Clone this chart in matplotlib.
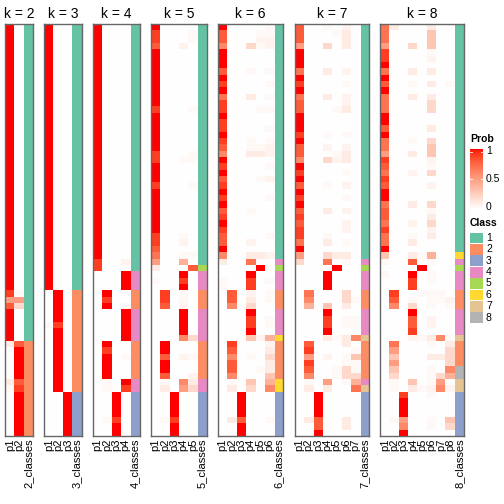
import numpy as np
import matplotlib
matplotlib.use("Agg")
import matplotlib.pyplot as plt
from matplotlib.patches import Rectangle

plt.rcParams['font.family'] = ['Liberation Sans', 'DejaVu Sans']

ks = [2, 3, 4, 5, 6, 7, 8]
class_colors = ['#66C2A5', '#FC8D62', '#8DA0CB', '#E78AC3',
                '#A6D854', '#FFD92F', '#E5C494', '#B3B3B3']
class_labels = ['1', '2', '3', '4', '5', '6', '7', '8']
prob_ticks = [0, 0.5, 1]

# membership codes, one char per column p1..pk:
# '.'=0, f=0.03, g=0.06, 1..9 = 0.1..0.9, X=1
codes = {'.': 0.0, 'f': 0.03, 'g': 0.06, 'X': 1.0,
         '1': 0.1, '2': 0.2, '3': 0.3, '4': 0.4, '5': 0.5,
         '6': 0.6, '7': 0.7, '8': 0.8, '9': 0.9}

mem_k2 = """
X. X. X. X. X. X. X. X. X. X.
X. X. X. X. X. X. X. X. X. X.
X. X. X. X. X. X. X. X. X. X.
X. X. X. X. X. X. X. X. X. X.
X. X. 9f 55 82 X. X. X. X. X.
18 .X .X .X .X .X 18 f9 .X .X
.X .X .X .X .X
"""
mem_k3 = """
X.. X.. X.. X.. X.. X.. X.. X.. X.. X..
X.. X.. X.. X.. X.. X.. X.. X.. X.. X..
X.. X.. X.. X.. X.. X.. X.. X.. X.. X..
X.. X.. X.. X.. X.. X.. X.. X.. X.. X..
X.. X.. .X. .X. .X. .X. .X. f9. .X. .X.
.X. .X. .X. .X. .X. .X. .X. .X. ..X ..X
..X ..X ..X ..X ..X
"""
mem_k4 = """
X... X... X... X... X... X... X... X... X... X...
X... X... X... X... X... X... X... X... X... X...
X... X... X... X... X... X... X... X... X... X...
X... X... X... X... X... X... X... 9..g 9... ...X
...X ...X .X.. .9.. .X.f ...X ...X ...X ...X ...X
.X.. .9.. .X.f .X.. .X.. .X.. .f.X .f.9 ..X. ..X.
..X. ..X. .f9. ..X. ..X.
"""
mem_k5 = """
X.... 9...f 9...f 8..g. X.... X.... X.... X.... X.... X....
X.... X.... X.... 9...f X.... X.... X.... X.... X.... X....
9...f 9..ff X.... X.... X.... 9...f X.... X.... X.... X....
X.... X.... X.... 9..f. 9..g. 8.... 7..ff 5..4. 1...8 ...X.
f..9. ...X. .9.f. .9.f. .8.g. ...X. ...X. ...X. ...X. ...62
.X... .X... .8.gf .X... .X... .8..g .f.61 .1.52 ..X.. ..X..
..X.. ..X.. .f9.. ..X.. ..X..
"""
mem_k6 = """
X....f 8...ff 8...gg 6..2fg X..... X..... X..... 8..f.f X..... 9....f
X..... 7..1.f 9..... 9...ff X..... 9..... 9....f X..... 9..f.f 8..ffg
6..11g X..... 9....f X..... 8...fg 9..... X..... 9....f X..... 8..f..
9..... X..... 9..... 8....f 8..g.. X..... 6..11g 1..7.. ....X. ...X..
f..9.f f..9.. .8.g.f .8.1.f .6.2.. ...X.. ...9.f ...9.f ...X.. ...3g4
.9...g .8...1 .6.f.2 .8...1 .8..f1 .6...3 .f.3.4 .1.2.6 ..X... ..X...
..X... ..X... .18..f ..X... ..X...
"""
mem_k7 = """
8..f.g. 8...f1. 8....1. 5..2.1. X...... X...... X...... 7..1.g. X...... 9....f.
X...... 7..1.g. 8....g. 8...f1. X...... X...... X...... 9..f.f. X...... 8..g.g.
8...f1. 6..2g1. X...... 9....f. X...... 8..f.g. X...... 9....f. X...... 8..1.g.
9...... 8....g. 9....g. 9..f... 7..1.f. X...... 5..211. 2..7.f. ....X.. ...X...
...X... ...X... .7...2. .6...2f .4.3.1. ...X... ...9.ff ...9.ff ...X... ...1f16
.8...1. .9....f .5.g.f3 .9...ff .8..f2f .6..f22 .f.5.f4 .1.1..7 ..X.... ..X....
..X.... ..X.... .18..1. ..8..1. ..X....
"""
mem_k8 = """
71...1.. 7....3.. 7....3.. 5..2.3.. 9....f.. 9....g.. X....... 7..1.1.. X....... 8..f.1.f
X....... 7..1.1.. 7....2.. 7....2.. X....... X....... 8....1.. X....... 7..f.2.. 7....3..
5..1.3.. 9....g.. 8....f.. 7..g.2.. 9....... 8....g.. X....... X....... 7..1.2.. 8....f..
8....1.. 7..g.2.. 9....g.. 7..f.1.. 7..1.... X....... 3..1f4.. f..8.f.. ....X... f..X.f..
...9.f.. ...9.... .9..fff. .8.f.ffg .6.2.f.f ...X.... ...8.g.. ...8.g.. ...9.... ...gf16f
.7...f.1 .5.....2 .3...112 .5.....2 .3...f.6 .2...f24 .f.3.f5. .f.1fg6g ..9..f.. ..X.....
..X..... ..X..... .f5..f.3 ..6..f.2 ..X.....
"""

cls_k2 = "1111111111 1111111111 1111111111 1111111111 1111111111 2222222222 22222"
cls_k3 = "1111111111 1111111111 1111111111 1111111111 1122222222 2222222233 33333"
cls_k4 = "1111111111 1111111111 1111111111 1111111114 4422244444 2222224433 33333"
cls_k5 = "1111111111 1111111111 1111111111 1111111154 4422244444 2222224433 33333"
cls_k6 = "1111111111 1111111111 1111111111 1111111454 4422244446 2222226633 33333"
cls_k7 = "1111111111 1111111111 1111111111 1111111454 4422244447 2222224733 33333"
cls_k8 = "1111111111 1111111111 1111111111 1111116454 4422244447 2222887733 33333"

members = {2: mem_k2, 3: mem_k3, 4: mem_k4, 5: mem_k5, 6: mem_k6, 7: mem_k7, 8: mem_k8}
classes = {2: cls_k2, 3: cls_k3, 4: cls_k4, 5: cls_k5, 6: cls_k6, 7: cls_k7, 8: cls_k8}


def white_red(t):
    # white -> red interpolated in LAB space
    t = np.asarray(t, dtype=float)
    L = 100 + (53.24 - 100) * t
    a = 80.09 * t
    b = 67.20 * t
    fy = (L + 16) / 116
    fx = fy + a / 500
    fz = fy - b / 200

    def finv(f):
        return np.where(f ** 3 > 0.008856, f ** 3, (f - 16 / 116) / 7.787)

    X = 0.95047 * finv(fx)
    Y = finv(fy)
    Z = 1.08883 * finv(fz)
    r = 3.2406 * X - 1.5372 * Y - 0.4986 * Z
    g = -0.9689 * X + 1.8758 * Y + 0.0415 * Z
    bl = 0.0557 * X - 0.2040 * Y + 1.0570 * Z
    rgb = np.clip(np.stack([r, g, bl], -1), 0, 1)
    return np.where(rgb <= 0.0031308, 12.92 * rgb, 1.055 * rgb ** (1 / 2.4) - 0.055)


def hex2rgb(h):
    return [int(h[i:i + 2], 16) / 255 for i in (1, 3, 5)]


W = H = 504
fig = plt.figure(figsize=(5.04, 5.04), dpi=100)

top, bottom = 24, 436
col_w, gap = 9.33, 11.2
x0 = 5.3
for k in ks:
    rows = members[k].split()
    vals = np.array([[codes[c] for c in r] for r in rows])
    cls = "".join(classes[k].split())
    img = np.ones((len(rows), k + 1, 3))
    img[:, :k, :] = white_red(vals)
    img[:, k, :] = [hex2rgb(class_colors[int(c) - 1]) for c in cls]

    w = (k + 1) * col_w
    ax = fig.add_axes([x0 / W, 1 - bottom / H, w / W, (bottom - top) / H])
    ax.imshow(img, aspect='auto', interpolation='nearest')
    ax.set_xticks(range(k + 1))
    ax.set_xticklabels([f"p{i + 1}" for i in range(k)] + [f"{k}_classes"],
                       rotation=90, fontsize=8)
    ax.tick_params(length=0, pad=2)
    ax.set_yticks([])
    for s in ax.spines.values():
        s.set_color('#666666')
        s.set_linewidth(1)
    ax.set_title(f"k = {k}", fontsize=10, pad=4)
    x0 += w + gap

# legends
lg = fig.add_axes([0, 0, 1, 1])
lg.patch.set_visible(False)
grad = white_red(np.linspace(1, 0, 200))[:, None, :]
lg.imshow(grad, extent=(469.5, 482.5, 209, 149), aspect='auto', interpolation='bilinear')
for v in prob_ticks:
    y = 206.5 - v * 55
    lg.text(486, y, f"{v:g}", fontsize=7.5, va='center', ha='left')
    lg.plot([469.5, 471.5], [y, y], color='white', lw=0.6)
    lg.plot([480.5, 482.5], [y, y], color='white', lw=0.6)
lg.text(470, 139, "Prob", fontsize=7.5, fontweight='bold', va='center', ha='left')
lg.text(470, 223, "Class", fontsize=7.5, fontweight='bold', va='center', ha='left')
for i, (c, lab) in enumerate(zip(class_colors, class_labels)):
    y = 232.5 + i * 11.4
    lg.add_patch(Rectangle((469.5, y), 13, 10.8, facecolor=c, edgecolor='none'))
    lg.text(486, y + 5.4, lab, fontsize=7.5, va='center', ha='left')
lg.set_xlim(0, W)
lg.set_ylim(H, 0)
lg.axis('off')

fig.savefig('out.png', dpi=100)
